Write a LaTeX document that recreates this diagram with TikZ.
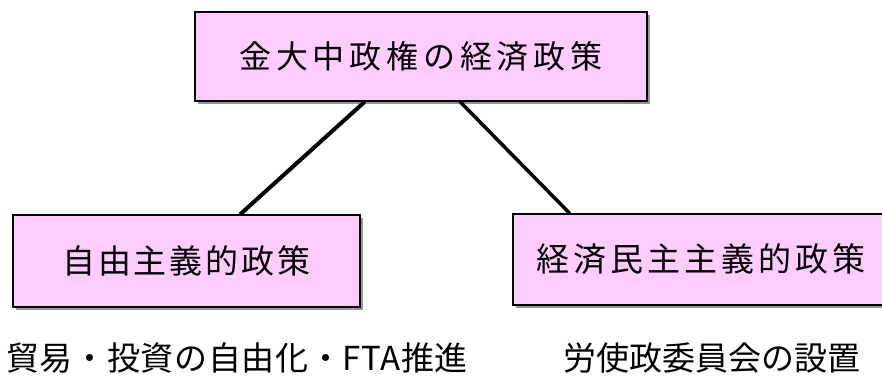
\documentclass[tikz,border=0pt]{standalone}
\usepackage{fontspec}
\setmainfont{Noto Sans CJK JP}
\usetikzlibrary{calc}
\definecolor{boxpink}{RGB}{255,204,255}
\definecolor{shadowgray}{RGB}{150,150,150}
\tikzset{
  pbox/.style={draw=black, line width=1.3pt, fill=boxpink, inner sep=0pt, anchor=center},
  conn/.style={line width=4pt, black},
  btext/.style={inner sep=0pt, anchor=west, font=\fontsize{33}{36}\selectfont}
}
\begin{document}
\begin{tikzpicture}[x=1pt,y=-1pt]
\useasboundingbox (0,0) rectangle (882,378);
% shadows
\fill[shadowgray] (198,15) rectangle (650,104);
\fill[shadowgray] (16,218) rectangle (363,310);
\fill[shadowgray] (516,217) rectangle (892,308);
% boxes
\node[pbox, minimum width=452pt, minimum height=89pt,
  font=\fontsize{32}{34}\selectfont\addfontfeatures{LetterSpace=15}] (top) at (421,56.5) {金大中政権の経済政策};
\node[pbox, minimum width=347pt, minimum height=92pt,
  font=\fontsize{33}{36}\selectfont\addfontfeatures{LetterSpace=9}] (left) at (186.5,261) {自由主義的政策};
\node[pbox, minimum width=376pt, minimum height=91pt,
  font=\fontsize{33}{36}\selectfont\addfontfeatures{LetterSpace=12}] (right) at (701,259.5) {経済民主主義的政策};
% connectors
\draw[conn] ($(top.south west)!0.376!(top.south east)$) -- ($(left.north west)!0.654!(left.north east)$);
\draw[conn, line width=3.5pt] ($(top.south west)!0.586!(top.south east)$) -- ($(right.north west)!0.152!(right.north east)$);
% bottom texts
\node[btext, font=\fontsize{33}{36}\selectfont\addfontfeatures{LetterSpace=2}] (lt) at (6,358) {貿易・投資の自由化・FTA推進};
\node[btext] (rt) at (563,358) {労使政委員会の設置};
\end{tikzpicture}
\end{document}
